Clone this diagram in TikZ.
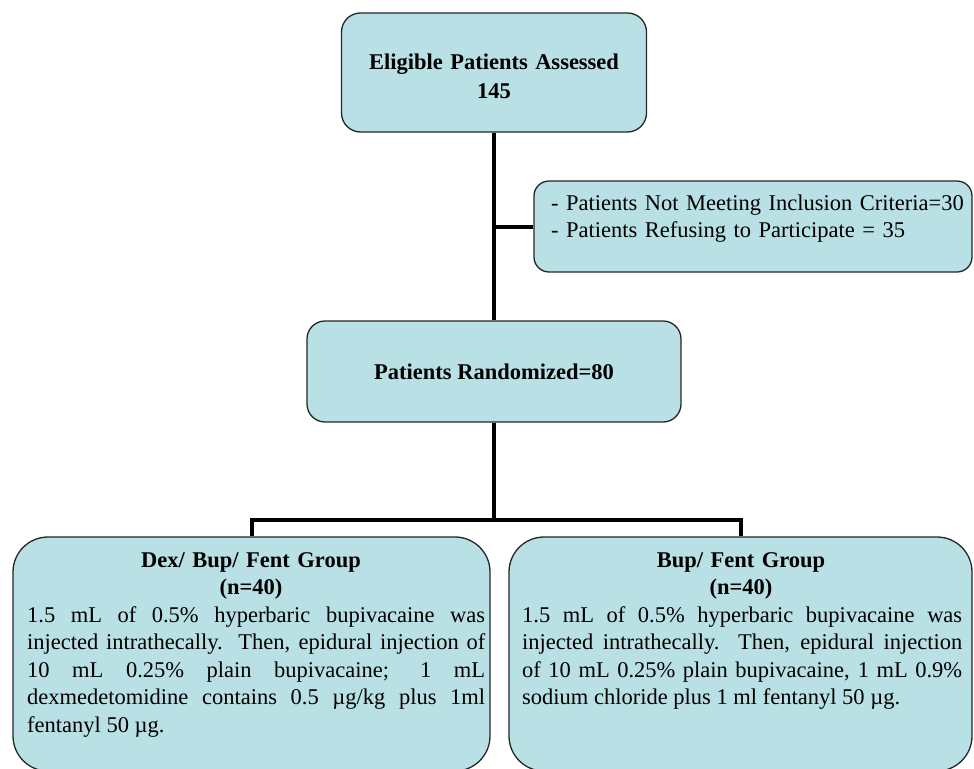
\documentclass[tikz,border=0pt]{standalone}
\usepackage{fontspec}
\setmainfont{Liberation Serif}
\definecolor{boxfill}{RGB}{185,224,228}
\hyphenpenalty=10000
\begin{document}
\begin{tikzpicture}[x=1pt,y=-1pt,
  box/.style={draw=black!85, line width=1.3pt, fill=boxfill, inner sep=0pt},
  conn/.style={line width=4pt, line join=miter},
  txt/.style={inner sep=0pt, font=\fontsize{22.5}{27.5}\selectfont},
]
\useasboundingbox (0,0) rectangle (974,768);
% boxes
\node[box, rounded corners=19pt, minimum width=305pt, minimum height=119pt] (top) at (494,72.5) {};
\node[box, rounded corners=15pt, minimum width=438pt, minimum height=91pt] (side) at (753,226.5) {};
\node[box, rounded corners=18pt, minimum width=374pt, minimum height=101pt] (mid) at (494,371.5) {};
\node[box, rounded corners=35pt, minimum width=477pt, minimum height=234pt] (left) at (251.5,654) {};
\node[box, rounded corners=35pt, minimum width=463pt, minimum height=234pt] (right) at (740.5,654) {};
% connectors
\coordinate (branch) at (top.south |- side.west);
\coordinate (bar) at (494,520);
\draw[conn] (top.south) -- (mid.north);
\draw[conn] (branch) -- (side.west);
\draw[conn] (mid.south) -- (bar);
\draw[conn] (left.north) |- (bar) -| (right.north);
% texts
\node[txt, text width=300pt, align=center, anchor=base, font=\fontsize{22.5}{28.5}\selectfont\bfseries] (toptxt) at (494,70)
  {Eligible Patients Assessed\\145};
\node[txt, text width=420pt, align=left, anchor=base west] (sidetxt) at (551,210)
  {- Patients Not Meeting Inclusion Criteria=30\\- Patients Refusing to Participate = 35};
\node[txt, anchor=base, font=\fontsize{22.5}{27.5}\selectfont\bfseries] (midtxt) at (494,379) {Patients Randomized=80};
\node[txt, text width=458pt, align=center, anchor=base, font=\fontsize{22.5}{27.5}\selectfont\bfseries] (lefttitle) at (251,567)
  {Dex/ Bup/ Fent Group\\(n=40)};
\node[txt, text width=440pt, align=center, anchor=base, font=\fontsize{22.5}{27.5}\selectfont\bfseries] (righttitle) at (741,567)
  {Bup/ Fent Group\\(n=40)};
\node[txt, text width=458pt, align=justify, anchor=base west] (leftbody) at (27,622)
  {1.5 mL of 0.5\% hyperbaric bupivacaine was\linebreak
   injected intrathecally.\ \ Then, epidural injection of\linebreak
   10 mL 0.25\% plain bupivacaine; 1 mL\linebreak
   dexmedetomidine contains 0.5 µg/kg plus 1ml\linebreak
   fentanyl 50 µg.};
\node[txt, text width=440pt, align=justify, anchor=base west] (rightbody) at (522,622)
  {1.5 mL of 0.5\% hyperbaric bupivacaine was\linebreak
   injected intrathecally.\ \ Then, epidural injection\linebreak
   of 10 mL 0.25\% plain bupivacaine, 1 mL 0.9\%\linebreak
   sodium chloride plus 1 ml fentanyl 50 µg.};
\end{tikzpicture}
\end{document}
